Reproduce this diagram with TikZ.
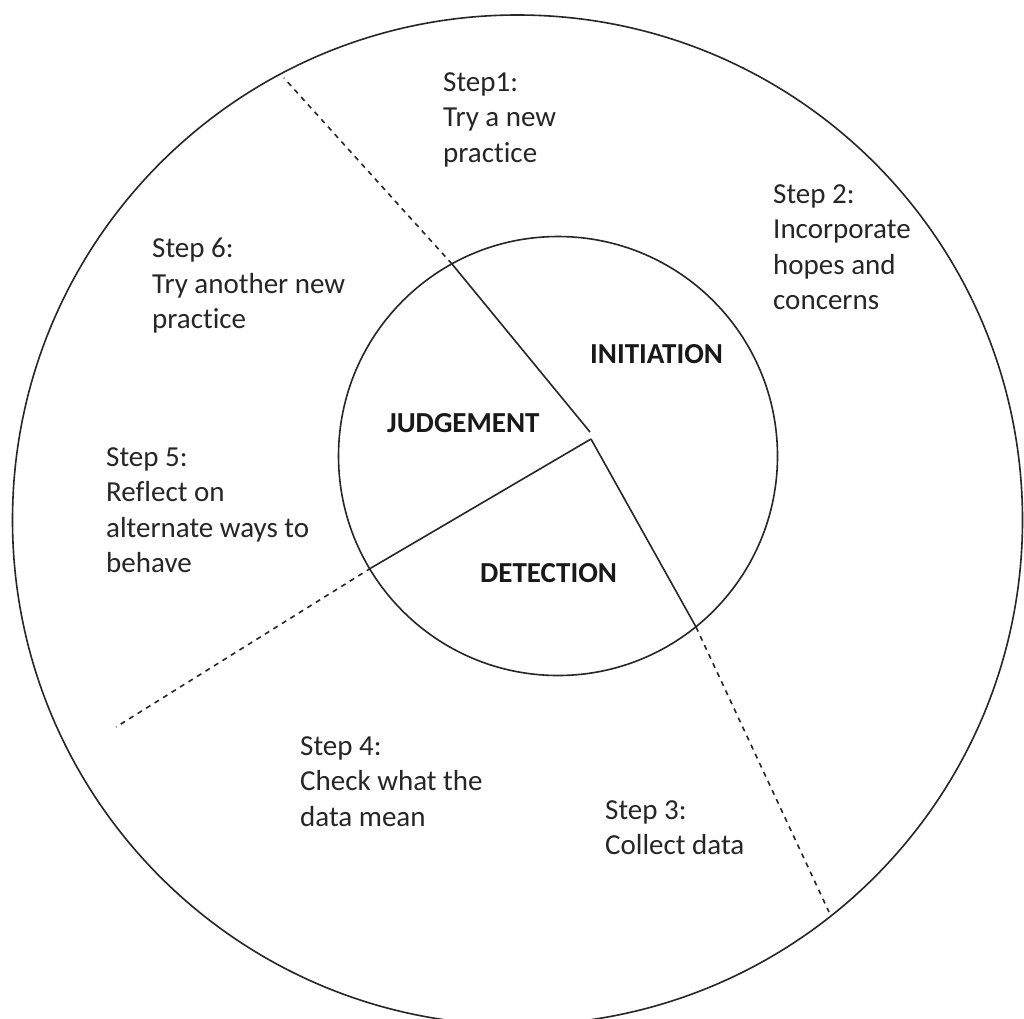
\documentclass[tikz,border=0pt]{standalone}
\usepackage{fontspec}
\setmainfont{Carlito}[Ligatures={NoCommon,NoRare}]
\begin{document}
\begin{tikzpicture}[x=1pt,y=-1pt,
  ring/.style={draw=black!85,line width=1.6pt},
  solidline/.style={draw=black!85,line width=1.6pt},
  dashline/.style={draw=black!85,line width=1.6pt,dash pattern=on 5pt off 5pt},
  steptext/.style={anchor=north west,inner sep=0pt,align=left,text=black!85,font=\fontsize{29}{35.5}\selectfont},
  phase/.style={anchor=north west,inner sep=0pt,text=black!90,font=\fontsize{29}{35}\selectfont\bfseries}]
\useasboundingbox (0,0) rectangle (1024,1018);
\fill[white] (0,0) rectangle (1024,1018);
\clip (0,0) rectangle (1024,1018);
\coordinate (oc) at (517.5,520);
\coordinate (ic) at (558,456);
\draw[ring] (oc) circle (505);
\draw[ring] (ic) circle (219.5);
% hub
\coordinate (hubA) at (590,432);
\coordinate (hubB) at (591,439);
% upper-left
\coordinate (ulIn) at (452,264);
\coordinate (ulOut) at (284,78);
% lower-right
\coordinate (lrIn) at (696,627);
\coordinate (lrOut) at (829,912);
% lower-left
\coordinate (llIn) at (371,568);
\coordinate (llOut) at (116,727);
\draw[solidline] (hubA) -- (ulIn);
\draw[dashline] (ulIn) -- (ulOut);
\draw[solidline] (hubB) -- (lrIn);
\draw[dashline] (lrIn) -- (lrOut);
\draw[solidline] (hubB) -- (llIn);
\draw[dashline] (llIn) -- (llOut);
% phases
\node[phase] (init) at (590,344) {INITIATION};
\node[phase] (judg) at (387,413) {JUDGEMENT};
\node[phase] (dete) at (480,563) {DETECTION};
% steps
\node[steptext] (s1) at (443,72) {Step1:\\Try a new\\practice};
\node[steptext] (s2) at (773,184) {Step 2:\\Incorporate\\hopes and\\concerns};
\node[steptext] (s6) at (152,238) {Step 6:\\Try another new\\practice};
\node[steptext] (s5) at (106,447) {Step 5:\\Reflect on\\alternate ways to\\behave};
\node[steptext] (s4) at (300,736) {Step 4:\\Check what the\\data mean};
\node[steptext] (s3) at (605,800) {Step 3:\\Collect data};
\end{tikzpicture}
\end{document}
